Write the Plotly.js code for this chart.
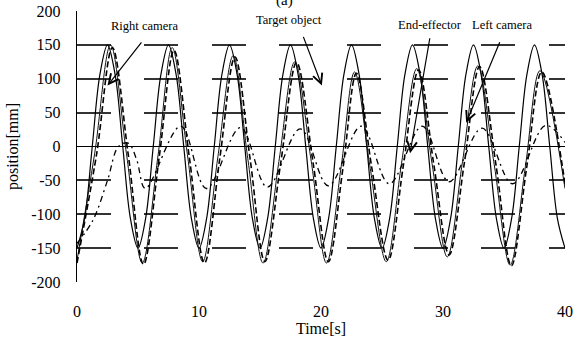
<!DOCTYPE html>
<html>
<head>
<meta charset="utf-8">
<script src="https://cdn.plot.ly/plotly-3.0.1.min.js"></script>
<style>html,body{margin:0;padding:0;background:#fff;}#chart{width:578px;height:338px;}</style>
</head>
<body>
<div id="chart"></div>
<script>
// ---- data ----
const targetT = [0,0.625,1.25,1.875,2.5,3.125,3.75,4.375,5,5.625,6.25,6.875,7.5,8.125,8.75,9.375,10,10.625,11.25,11.875,12.5,13.125,13.75,14.375,15,15.625,16.25,16.875,17.5,18.125,18.75,19.375,20,20.625,21.25,21.875,22.5,23.125,23.75,24.375,25,25.625,26.25,26.875,27.5,28.125,28.75,29.375,30,30.625,31.25,31.875,32.5,33.125,33.75,34.375,35,35.625,36.25,36.875,37.5,38.125,38.75,39.375,40];
const targetY = [-150,-106,0,106,150,106,0,-106,-150,-106,0,106,150,106,0,-106,-150,-106,0,106,150,106,0,-106,-150,-106,0,106,150,106,0,-106,-150,-106,0,106,150,106,0,-106,-150,-106,0,106,150,106,0,-106,-150,-106,0,106,150,106,0,-106,-150,-106,0,106,150,106,0,-106,-150];

const rightCamT = [0,1.45,2.75,4.05,5.35,6.65,7.8,9.05,10.3,11.55,12.8,14.0,15.25,16.55,17.85,19.2,20.45,21.65,22.75,24.0,25.35,26.6,27.85,29.1,30.35,31.6,32.85,34.2,35.5,36.75,37.95,40];
const rightCamY = [-168,-10,150,-10,-172,-12,146,-12,-170,-15,134,-18,-172,-22,125,-22,-172,-30,110,-28,-170,-25,115,-25,-163,-22,119,-27,-175,-30,112,-62];

const leftCamT = [0,1.6,2.9,4.2,5.45,6.75,7.95,9.2,10.45,11.7,12.95,14.2,15.4,16.7,18.0,19.35,20.6,21.8,22.9,24.15,25.5,26.75,28.0,29.25,30.5,31.75,33.0,34.35,35.6,36.85,38.1,40];
const leftCamY = [-172,-12,146,-12,-174,-14,142,-15,-172,-18,132,-20,-170,-24,124,-24,-170,-32,108,-30,-168,-28,113,-27,-160,-24,118,-28,-176,-32,110,-55];

const effT = [0,1.3,2.5,3.4,4.2,4.9,5.6,8.5,10.6,13.4,15.6,18.3,20.6,23.3,25.6,28.3,30.5,33.2,35.7,38.4,40];
const effY = [-143,-109,-50,0,5,-20,-62,30,-62,28,-60,26,-58,30,-55,30,-52,27,-55,31,6];

const yTickVals = [-200,-150,-100,-50,0,50,100,150,200];
const yTickText = ["-200","-150","-100","-50","0","50","100","150","200"];
const xTickVals = [0,10,20,30,40];
const xTickText = ["0","10","20","30","40"];

const labels = ["Right camera","Target object","End-effector","Left camera"];

const F = "Liberation Serif";

const traces = [
  {x: targetT, y: targetY, mode:'lines', line:{color:'#000', width:1.2, shape:'spline'}, name: labels[1]},
  {x: rightCamT, y: rightCamY, mode:'lines', line:{color:'#111', width:1, shape:'spline'}, name: labels[0]},
  {x: leftCamT, y: leftCamY, mode:'lines', line:{color:'#000', width:1.6, dash:'6px,3px', shape:'spline'}, name: labels[3]},
  {x: effT, y: effY, mode:'lines', line:{color:'#000', width:1.3, dash:'6px,4px,2px,4px', shape:'spline'}, name: labels[2]}
];

function arrow(x, y, ax, ay){
  return {x:x, y:y, ax:ax, ay:ay, xref:'x', yref:'y', axref:'x', ayref:'y', text:'', showarrow:true,
          arrowhead:5, arrowsize:1.6, arrowwidth:1.2, arrowcolor:'#000'};
}
function label(txt, px, py){
  return {x:px, y:py, xref:'x', yref:'y', text:txt, showarrow:false, font:{family:F, size:12.5, color:'#000'}};
}

const layout = {
  width:578, height:338,
  margin:{l:77, r:13, t:11, b:56},
  paper_bgcolor:'#fff', plot_bgcolor:'#fff',
  showlegend:false,
  xaxis:{range:[0,40], tickvals:xTickVals, ticktext:xTickText, showgrid:false, zeroline:false, showline:false,
         ticks:'outside', ticklen:15, tickcolor:'rgba(0,0,0,0)', tickfont:{family:F, size:16, color:'#000'},
         title:{text:'Time[s]', font:{family:F, size:16, color:'#000'}, standoff:0}},
  yaxis:{range:[-200,200], tickvals:yTickVals, ticktext:yTickText, showgrid:true, gridcolor:'#333', gridwidth:2,
         griddash:'34px,33.4px', zeroline:true, zerolinecolor:'#000', zerolinewidth:1.2,
         showline:true, linecolor:'#000', linewidth:1.3,
         ticks:'outside', ticklen:12, tickcolor:'rgba(0,0,0,0)', tickfont:{family:F, size:16, color:'#000'},
         title:{text:'position[mm]', font:{family:F, size:16, color:'#000'}, standoff:8}},
  annotations:[
    label(labels[0], 5.5, 178),
    label(labels[1], 17.4, 187),
    label(labels[2], 28.9, 180),
    label(labels[3], 34.8, 180),
    arrow(2.5, 90, 5.38, 156),
    arrow(20.07, 90, 18.51, 164),
    arrow(27.3, -10, 28.94, 162),
    arrow(31.9, 35, 34.7, 156),
    {x:0.426, y:1, xref:'paper', yref:'paper', yanchor:'middle', yshift:11, text:'(a)', showarrow:false,
     font:{family:F, size:15, color:'#000'}}
  ]
};

Plotly.newPlot('chart', traces, layout, {staticPlot:true, displayModeBar:false});
</script>
</body>
</html>
